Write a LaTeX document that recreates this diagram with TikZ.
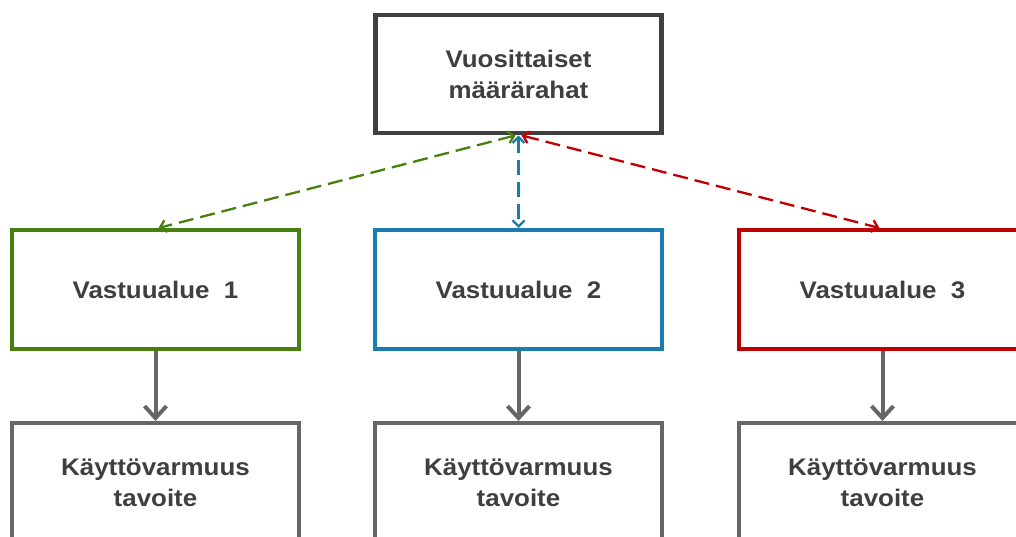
\documentclass[tikz,border=0pt]{standalone}
\usepackage{fontspec}
\setmainfont{Liberation Sans}[FakeStretch=1.08]
\usetikzlibrary{arrows.meta}
\definecolor{txt}{HTML}{3F3F3F}
\definecolor{topc}{HTML}{404040}
\definecolor{grayc}{HTML}{666666}
\definecolor{greenc}{HTML}{48800F}
\definecolor{bluec}{HTML}{1A7DB0}
\definecolor{redc}{HTML}{C00000}
\tikzset{
  box/.style={draw, rectangle, inner sep=0pt, minimum width=287pt, minimum height=119pt,
    line width=4pt, align=center, text=txt,
    font=\fontsize{24}{31}\selectfont\bfseries},
  flow/.style={draw=grayc, line width=4pt, -{Straight Barb[length=12pt,width=22pt]}},
  link/.style={line width=2.3pt, dash pattern=on 15pt off 7pt,
    {Straight Barb[length=6pt,width=12pt]}-{Straight Barb[length=6pt,width=12pt]}}
}
\begin{document}
\begin{tikzpicture}[x=1pt,y=-1pt]
\useasboundingbox (0,0) rectangle (1016,536);
\clip (0,0) rectangle (1016,536);
% top level
\node[box, draw=topc, line width=4.7pt, minimum width=286pt, minimum height=118pt] (top) at (518.5,74) {Vuosittaiset\\määrärahat};
% areas of responsibility
\node[box, draw=greenc] (v1) at (155.5,289.5) {Vastuualue\ \ 1};
\node[box, draw=bluec]  (v2) at (518.5,289.5) {Vastuualue\ \ 2};
\node[box, draw=redc]   (v3) at (882.5,289.5) {Vastuualue\ \ 3};
% availability targets
\node[box, draw=grayc] (k1) at (155.5,482.5) {Käyttövarmuus\\tavoite};
\node[box, draw=grayc] (k2) at (518.5,482.5) {Käyttövarmuus\\tavoite};
\node[box, draw=grayc] (k3) at (882.5,482.5) {Käyttövarmuus\\tavoite};
% dashed two-way links
\draw[link, draw=greenc] ([xshift=-3pt]top.south) -- ([xshift=3pt]v1.north);
\draw[link, draw=bluec] (top.south) -- (v2.north);
\draw[link, draw=redc] ([xshift=3pt]top.south) -- ([xshift=-3pt]v3.north);
% solid flow arrows
\draw[flow] (v1.south) -- (k1.north);
\draw[flow] (v2.south) -- (k2.north);
\draw[flow] (v3.south) -- (k3.north);
\end{tikzpicture}
\end{document}
